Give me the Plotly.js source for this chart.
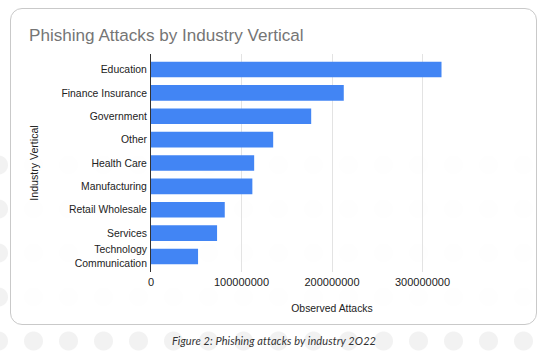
<!DOCTYPE html>
<html>
<head>
<meta charset="utf-8">
<script src="https://cdn.plot.ly/plotly-3.0.1.min.js"></script>
<style>
  html, body { margin: 0; padding: 0; width: 548px; height: 353px; overflow: hidden; background: #ffffff; }
  body { position: relative; }
  #dots {
    position: absolute; left: 0; top: 150px; width: 548px; height: 203px;
    background-image: radial-gradient(circle, #f2f2f2 0, #f2f2f2 9px, rgba(255,255,255,0) 10px);
    background-size: 35px 44px;
    background-position: 16px 37px;
  }
  #card {
    position: absolute; left: 10px; top: 8px; width: 525px; height: 315px;
    border: 1px solid #c9c9c9; border-radius: 12px;
    background: rgba(255,255,255,0.88);
  }
  #chart { position: absolute; left: 0; top: 0; width: 548px; height: 353px; }
  #caption {
    position: absolute; left: 0; width: 548px; top: 334px; text-align: center;
    font-family: Lato, "Open Sans", sans-serif; font-style: italic; font-size: 11px; color: #333;
    letter-spacing: 0.1px;
  }
</style>
</head>
<body>
<div id="dots"></div>
<div id="card"></div>
<div id="chart"></div>
<div id="caption">Figure 2: Phishing attacks by industry 2O22</div>
<script>
const categories = ["Education", "Finance Insurance", "Government", "Other", "Health Care",
  "Manufacturing", "Retail Wholesale", "Services", "Technology<br>Communication"];
const attacks = [321000000, 213000000, 177000000, 135000000, 114000000,
  112000000, 81500000, 73000000, 52000000];
const xTickVals = [0, 100000000, 200000000, 300000000, 400000000];
const xTickText = ["0", "100000000", "200000000", "300000000", ""];

const trace = {
  type: "bar",
  orientation: "h",
  y: categories,
  x: attacks,
  marker: { color: "#4285f4", line: { width: 0 } },
  hoverinfo: "none"
};

const layout = {
  width: 548, height: 353,
  margin: { l: 151, r: 35.3, t: 54, b: 81, pad: 0 },
  paper_bgcolor: "rgba(0,0,0,0)",
  plot_bgcolor: "rgba(0,0,0,0)",
  font: { family: "Liberation Sans, Arial, sans-serif", size: 11, color: "#222" },
  showlegend: false,
  bargap: 0.333,
  title: {
    text: "Phishing Attacks by Industry Vertical",
    xref: "container", yref: "container",
    x: 29 / 548, xanchor: "left",
    y: 1 - 35 / 353, yanchor: "middle",
    font: { family: "Liberation Sans, Arial, sans-serif", size: 17.1, color: "#757575" }
  },
  xaxis: {
    range: [0, 400000000],
    tickvals: xTickVals,
    ticktext: xTickText,
    showgrid: true, gridcolor: "#e3e3e3", gridwidth: 1,
    zeroline: false, showline: false, ticks: "",
    ticklabelstandoff: 2,
    tickfont: { size: 11, color: "#222" },
    title: { text: "Observed Attacks", standoff: 17, font: { size: 10.4, color: "#222" } },
    fixedrange: true
  },
  yaxis: {
    range: [8.663, -0.663],
    showgrid: false, zeroline: false,
    showline: true, linecolor: "#333", linewidth: 1,
    ticks: "", ticklabelstandoff: 1,
    tickfont: { size: 10.4, color: "#222" },
    title: { text: "Industry Vertical", standoff: 20, font: { size: 10.6, color: "#222" } },
    fixedrange: true
  }
};

Plotly.newPlot("chart", [trace], layout, { staticPlot: true, displayModeBar: false });
</script>
</body>
</html>
